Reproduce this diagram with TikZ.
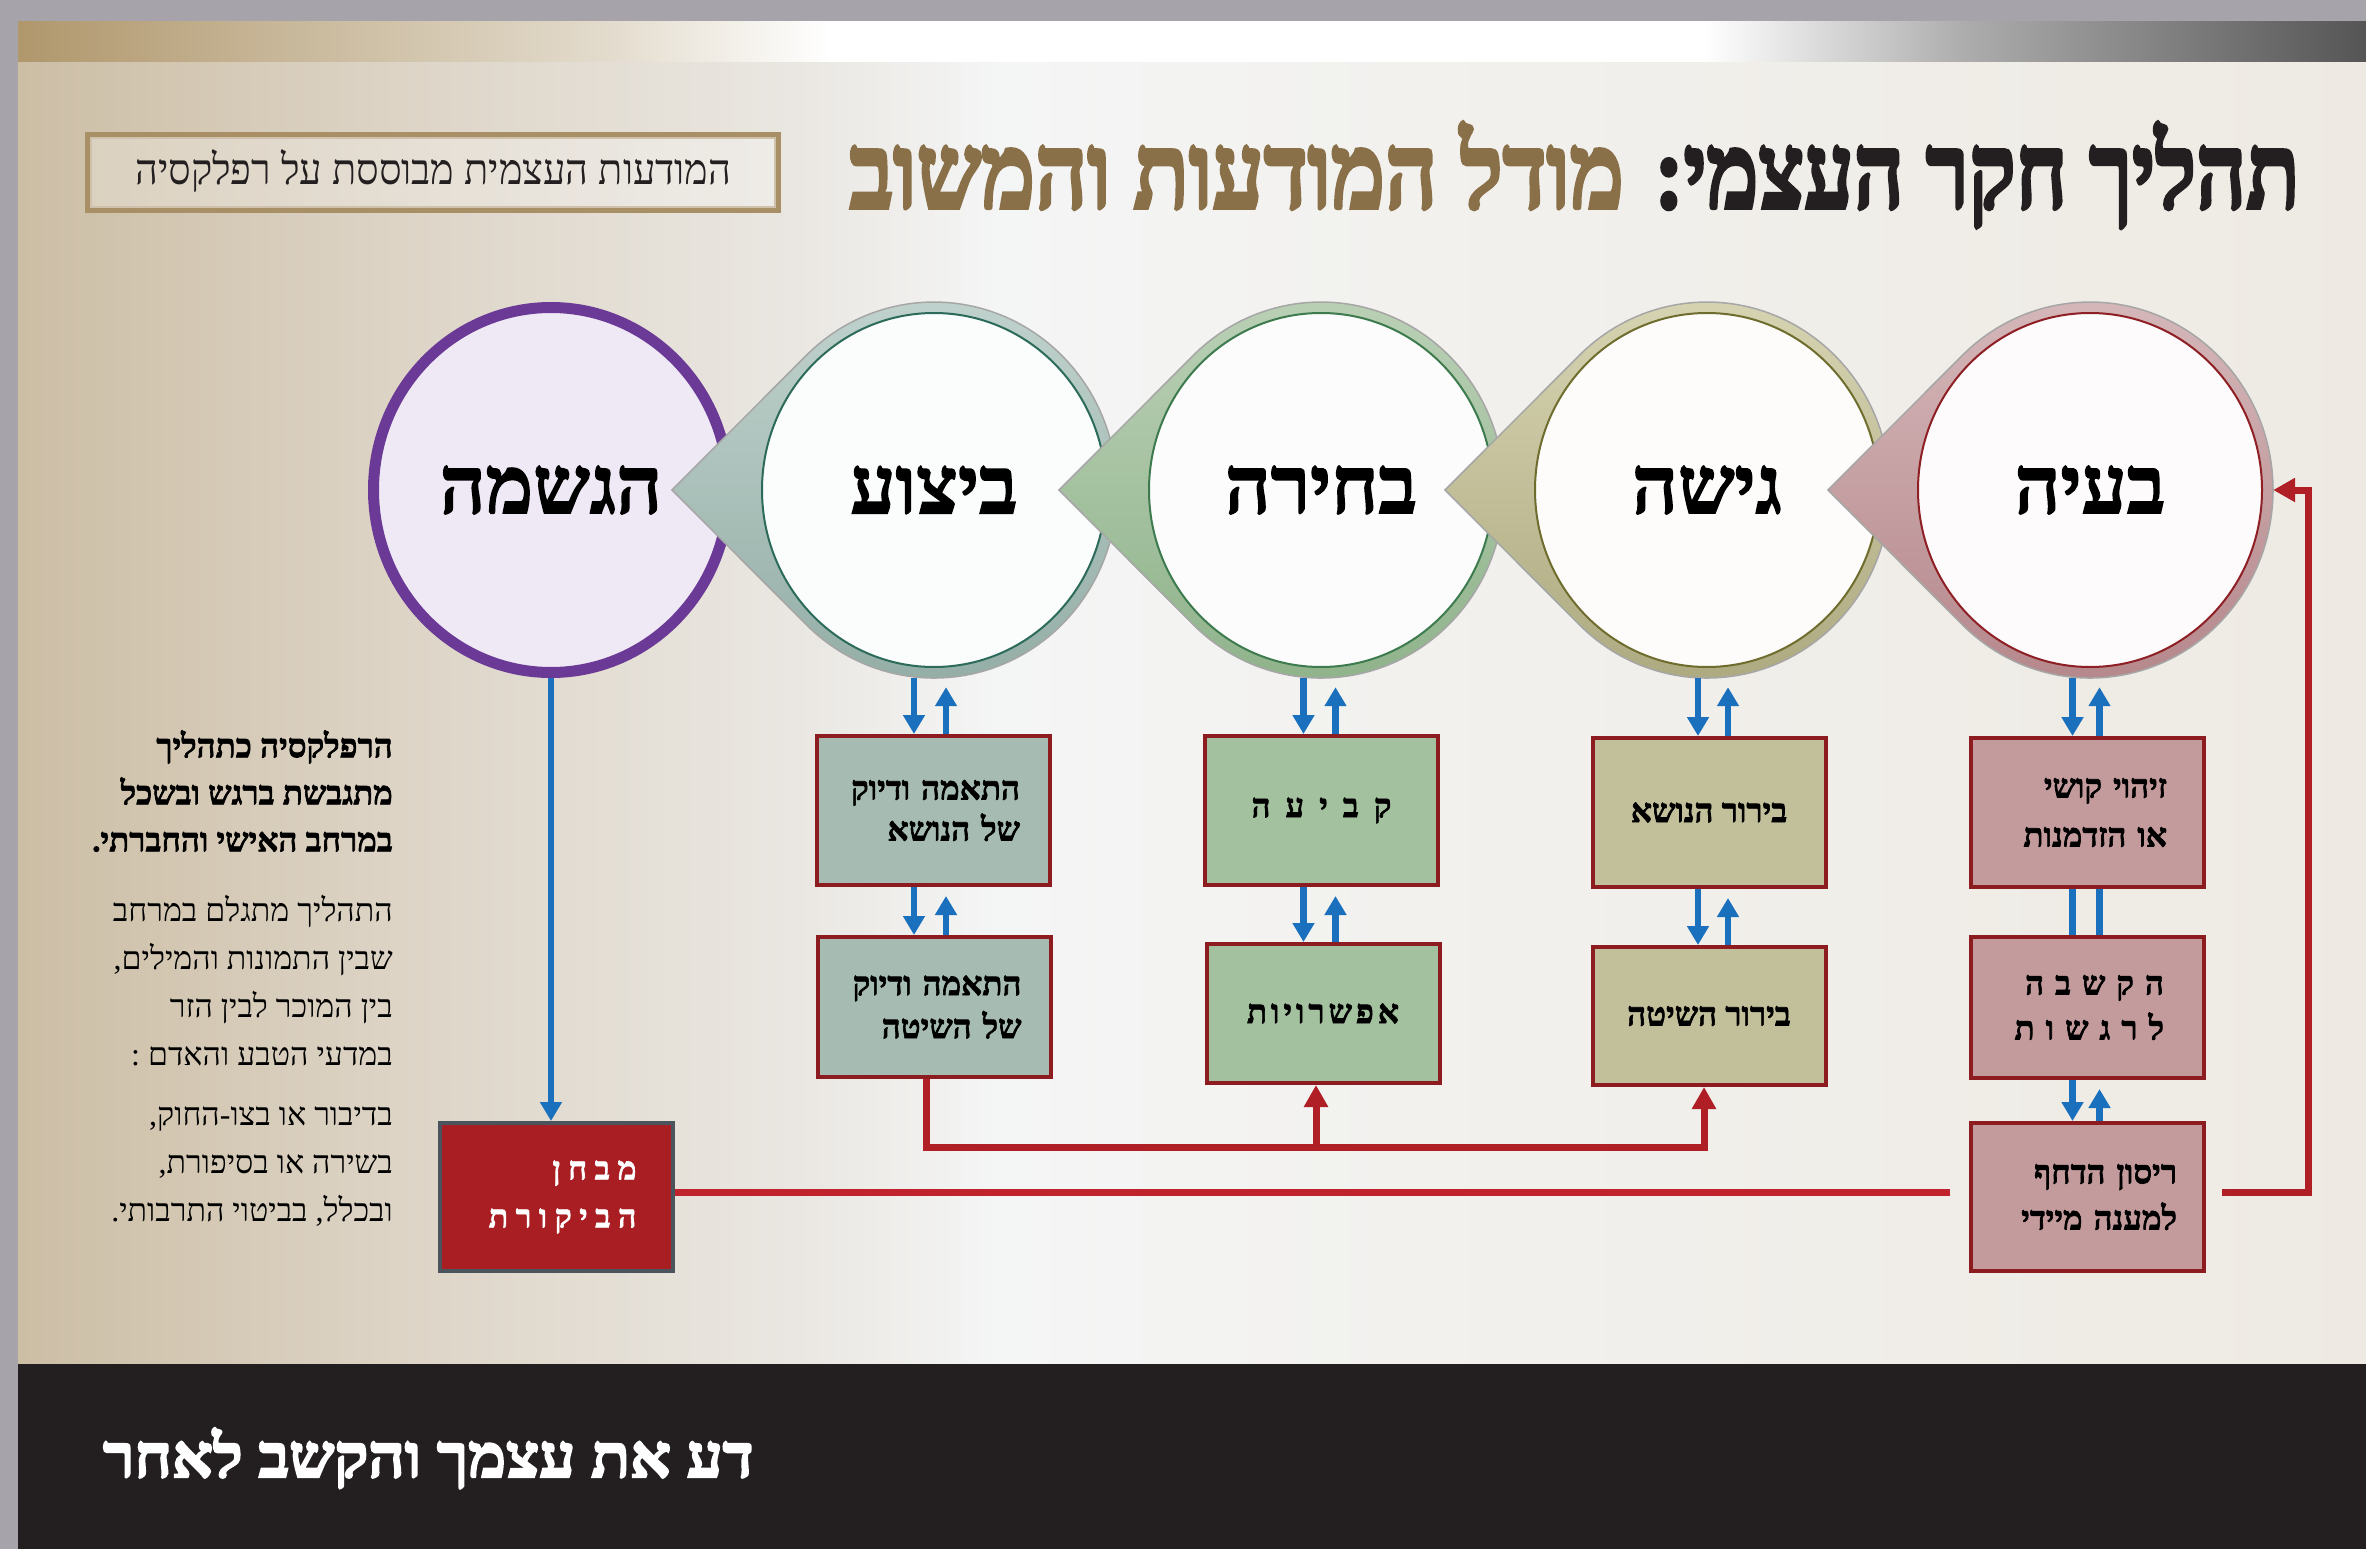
\documentclass[tikz,border=0pt]{standalone}
\usepackage{fontspec}
\usepackage{graphicx}
\usetikzlibrary{arrows.meta,calc,shapes.geometric}
\TeXXeTstate=1
\newfontfamily\heb[Script=Hebrew, BoldFeatures={FakeBold=2}]{Liberation Serif}
\newfontfamily\hebheavy[Script=Hebrew, FakeBold=3.5]{Liberation Serif Bold}
\newcommand{\hbt}[1]{\beginR #1\endR}
\newcommand{\brk}{\kern0pt}
\definecolor{grayframe}{HTML}{A7A3AA}
\definecolor{footbg}{HTML}{231F20}
\definecolor{titleblack}{HTML}{231F20}
\definecolor{titlebrown}{HTML}{8A7048}
\definecolor{framebrown}{HTML}{A88F66}
\definecolor{boxred}{HTML}{8C1C1F}
\definecolor{arrblue}{HTML}{1A70BD}
\definecolor{linered}{HTML}{C0232B}
\definecolor{busred}{HTML}{B01F26}
\definecolor{testred}{HTML}{A91E23}
\definecolor{testedge}{HTML}{4B535C}
\definecolor{fillA}{HTML}{C49B9C}
\definecolor{fillB}{HTML}{C2BF9B}
\definecolor{fillC}{HTML}{A3C09F}
\definecolor{fillD}{HTML}{A6BCB2}
\definecolor{purpring}{HTML}{6B3A96}
\definecolor{purpfill}{HTML}{EFE9F5}
\definecolor{bgA}{HTML}{CCBEA5}
\definecolor{bgB}{HTML}{DDD4C6}
\definecolor{bgC}{HTML}{EAE7E2}
\definecolor{bgD}{HTML}{F4F5F5}
\definecolor{bgE}{HTML}{F2F1EE}
\definecolor{bgF}{HTML}{EEEAE3}
\definecolor{tbA}{HTML}{B0976C}
\definecolor{tbB}{HTML}{C9B99C}
\definecolor{tbC}{HTML}{E2DACB}
\definecolor{tbD}{HTML}{ADADAD}
\definecolor{tbE}{HTML}{555555}
\definecolor{tdAt}{HTML}{D6B9BB}
\definecolor{tdAb}{HTML}{B4868A}
\definecolor{tdBt}{HTML}{D8D5B4}
\definecolor{tdBb}{HTML}{ACA87E}
\definecolor{tdCt}{HTML}{BBD1B6}
\definecolor{tdCb}{HTML}{8EB28A}
\definecolor{tdDt}{HTML}{C2D3CE}
\definecolor{tdDb}{HTML}{92ADA5}
\definecolor{lnA}{HTML}{8E1F25}
\definecolor{lnB}{HTML}{6F6D2E}
\definecolor{lnC}{HTML}{3D7B4F}
\definecolor{lnD}{HTML}{2C6B5A}
\pgfdeclarehorizontalshading{bgshade}{100bp}{color(0bp)=(bgA); color(25bp)=(bgA); color(33.1bp)=(bgB); color(41.6bp)=(bgC); color(45.9bp)=(bgD); color(54.4bp)=(bgE); color(75bp)=(bgF); color(100bp)=(bgF)}
\pgfdeclarehorizontalshading{bandshade}{100bp}{color(0bp)=(tbA); color(25bp)=(tbA); color(31bp)=(tbB); color(37.4bp)=(tbC); color(42.3bp)=(white); color(60.9bp)=(white); color(66.4bp)=(tbD); color(75bp)=(tbE); color(100bp)=(tbE)}
\newcommand{\tearshape}[5]{%
  \shade[top color=#2, bottom color=#3, draw=black!35, line width=1.5pt]
    ($(#1)+(-262,0)$) -- ($(#1)+(-127.8,-134.5)$)
    arc[start angle=134.3, end angle=-134.3, x radius=183pt, y radius=188pt] -- cycle;
  \draw[draw=#4, line width=2pt, fill=#5] (#1) ellipse[x radius=172pt, y radius=177pt];
}
\tikzset{
  stagetxt/.style={ellipse, minimum width=366pt, minimum height=376pt, inner sep=0pt,
    font=\heb\bfseries\fontsize{80}{86}\selectfont, text=black},
  box/.style={draw=boxred, line width=4pt, inner sep=0pt, minimum width=233pt,
    font=\heb\bfseries\fontsize{33}{45}\selectfont, text=black},
  rbox/.style={box, align=right},
  cbox/.style={box, align=center},
  barrow/.style={draw=arrblue, line width=6.5pt, -{Triangle[width=21pt,length=19pt]}},
  bline/.style={draw=arrblue, line width=6.5pt},
  rline/.style={draw=linered, line width=7pt},
  rarrow/.style={draw=busred, line width=7pt, -{Triangle[width=23pt,length=22pt]}},
  sidetxt/.style={align=right, anchor=east, inner sep=0pt, text=black},
}
\begin{document}
\begin{tikzpicture}[x=1pt,y=-1pt]
\useasboundingbox (0,0) rectangle (2366,1549);
% background
\fill[grayframe] (0,0) rectangle (2366,1549);
\shade[shading=bandshade] (18,22) rectangle (2366,63);
\shade[shading=bgshade] (18,63) rectangle (2366,1364);
\fill[footbg] (18,1364) rectangle (2366,1549);
% title
\node[anchor=base east, inner sep=0pt, text=titleblack] (t1) at (2300,208)
  {\resizebox{645pt}{86pt}{\hebheavy\hbt{תהליך חקר העצמי\brk:}}};
\node[anchor=base east, inner sep=0pt, text=titlebrown] (t2) at (1624,208)
  {\resizebox{774pt}{86pt}{\hebheavy\hbt{מודל המודעות והמשוב}}};
% top-left frame
\node[draw=framebrown, line width=7pt, fill=white, fill opacity=0.25,
  minimum width=689pt, minimum height=74pt, inner sep=0pt] (frame) at (433,172.5) {};
\draw[framebrown!55, line width=1.5pt] ($(frame.south west)+(6,-6)$) rectangle ($(frame.north east)+(-6,6)$);
\node[anchor=base west, inner sep=0pt, text=titleblack] (ftxt) at (135,185)
  {\resizebox{596pt}{35pt}{\heb\hbt{המודעות העצמית מבוססת על רפלקסיה}}};
% stage circles (left to right)
\coordinate (k5) at (551,490);
\coordinate (k4) at (934,490);
\coordinate (k3) at (1321,490);
\coordinate (k2) at (1707,490);
\coordinate (k1) at (2090,490);
\draw[purpring, line width=11pt, fill=purpfill] (k5) ellipse[x radius=177.5pt, y radius=182.5pt];
\node[stagetxt] (c5) at (k5) {\hbt{הגשמה}};
\tearshape{k4}{tdDt}{tdDb}{lnD}{white!96!fillD}
\node[stagetxt] (c4) at (k4) {\hbt{ביצוע}};
\tearshape{k3}{tdCt}{tdCb}{lnC}{white!96!fillC}
\node[stagetxt] (c3) at (k3) {\hbt{בחירה}};
\tearshape{k2}{tdBt}{tdBb}{lnB}{white!96!fillB}
\node[stagetxt] (c2) at (k2) {\hbt{גישה}};
\tearshape{k1}{tdAt}{tdAb}{lnA}{white!96!fillA}
\node[stagetxt] (c1) at (k1) {\hbt{בעיה}};
% boxes
\node[rbox, fill=fillD, minimum height=149pt, text width=174pt, font=\heb\bfseries\fontsize{33}{41}\selectfont] (b41) at (933,810.5)
  {\hbt{התאמה ודיוק}\\\hbt{של הנושא}};
\node[rbox, fill=fillD, minimum height=140pt, text width=174pt, font=\heb\bfseries\fontsize{33}{43}\selectfont] (b42) at (934.5,1007)
  {\hbt{התאמה ודיוק}\\\hbt{של השיטה}};
\node[cbox, fill=fillC, minimum height=149pt] (b31) at (1321.5,810.5) {\spaceskip=15pt\relax\hbt{ק ב י ע ה}};
\node[cbox, fill=fillC, minimum height=139pt] (b32) at (1323,1013.5)
  {\addfontfeature{LetterSpace=12}\hbt{אפשרויות}};
\node[cbox, fill=fillB, minimum height=149pt] (b21) at (1709,812.5) {\hbt{בירור הנושא}};
\node[cbox, fill=fillB, minimum height=138pt] (b22) at (1709,1016) {\hbt{בירור השיטה}};
\node[rbox, fill=fillA, minimum height=149pt, text width=159pt, font=\heb\bfseries\fontsize{33}{49}\selectfont] (b11) at (2087.5,812.5)
  {\hbt{זיהוי קושי}\\\hbt{או הזדמנות}};
\node[rbox, fill=fillA, minimum height=141pt, text width=153pt] (b12) at (2087.5,1007.5)
  {\hbt{ה ק ש ב ה}\\\hbt{ל ר ג ש ו ת}};
\node[rbox, fill=fillA, minimum height=148pt, text width=179pt, font=\heb\bfseries\fontsize{33}{46}\selectfont] (b13) at (2087.5,1197)
  {\hbt{ריסון הדחף}\\\hbt{למענה מיידי}};
\node[rbox, draw=testedge, fill=testred, text=white, minimum height=148pt, text width=160pt,
  font=\heb\bfseries\fontsize{32}{48}\selectfont] (bm) at (556.5,1197)
  {\spaceskip=7.5pt\relax\hbt{מ ב ח ן}\\\hbt{ה ב י ק ו ר ת}};
% blue connectors
\coordinate (d4) at ($(b41.north)+(-19,0)$);
\coordinate (u4) at ($(b41.north)+(13,0)$);
\coordinate (d3) at ($(b31.north)+(-18,0)$);
\coordinate (u3) at ($(b31.north)+(14,0)$);
\coordinate (d2) at ($(b21.north)+(-11,0)$);
\coordinate (u2) at ($(b21.north)+(19,0)$);
\coordinate (d1) at ($(b11.north)+(-15,0)$);
\coordinate (u1) at ($(b11.north)+(12,0)$);
\draw[barrow] (d4 |- c4.south) -- (d4);
\draw[barrow] (u4) -- ($(u4 |- c4.south)+(0,9)$);
\draw[barrow] (d4 |- b41.south) -- (d4 |- b42.north);
\draw[barrow] (u4 |- b42.north) -- ($(u4 |- b41.south)+(0,9)$);
\draw[barrow] (d3 |- c3.south) -- (d3);
\draw[barrow] (u3) -- ($(u3 |- c3.south)+(0,9)$);
\draw[barrow] (d3 |- b31.south) -- (d3 |- b32.north);
\draw[barrow] (u3 |- b32.north) -- ($(u3 |- b31.south)+(0,9)$);
\draw[barrow] (d2 |- c2.south) -- (d2);
\draw[barrow] (u2) -- ($(u2 |- c2.south)+(0,9)$);
\draw[barrow] (d2 |- b21.south) -- (d2 |- b22.north);
\draw[barrow] (u2 |- b22.north) -- ($(u2 |- b21.south)+(0,9)$);
\draw[barrow] (d1 |- c1.south) -- (d1);
\draw[barrow] (u1) -- ($(u1 |- c1.south)+(0,9)$);
\draw[bline] (d1 |- b11.south) -- (d1 |- b12.north);
\draw[bline] (u1 |- b11.south) -- (u1 |- b12.north);
\draw[barrow] (d1 |- b12.south) -- (d1 |- b13.north);
\draw[barrow] (u1 |- b13.north) -- ($(u1 |- b12.south)+(0,9)$);
\draw[barrow] (c5.south) -- (c5.south |- bm.north);
% red connectors
\coordinate (bus) at (0,1147);
\draw[rarrow] ($(b42.south)+(-8,0)$) |- ($(bus -| b22.south)+(-5,0)$) -- ($(b22.south)+(-5,0)$);
\draw[rarrow] ($(bus -| b32.south)+(-7,0)$) -- ($(b32.south)+(-7,0)$);
\draw[rline] ($(bm.east)+(0,-5)$) -- ($(b13.west)+(-19,-5)$);
\draw[rarrow] ($(b13.east)+(16,-5)$) -- ($(b13.east)+(102,-5)$) |- (c1.east);
% side text
\node[sidetxt, font=\heb\bfseries\fontsize{33}{47}\selectfont] (p1) at (393,791)
  {\hbt{הרפלקסיה כתהליך}\\\hbt{מתגבשת ברגש ובשכל}\\\hbt{במרחב האישי והחברתי\brk.}};
\node[sidetxt, font=\heb\fontsize{32}{48}\selectfont] (p2) at (393,981)
  {\hbt{התהליך מתגלם במרחב}\\\hbt{שבין התמונות והמילים\brk,}\\\hbt{בין המוכר לבין הזר}\\\hbt{במדעי הטבע והאדם :}};
\node[sidetxt, font=\heb\fontsize{32}{48}\selectfont] (p3) at (393,1166)
  {\hbt{בדיבור או בצו\brk-\brk החוק\brk,}\\\hbt{בשירה או בסיפורת\brk,}\\\hbt{ובכלל\brk, בביטוי התרבותי\brk.}};
% footer
\node[anchor=base west, inner sep=0pt, text=white] (foot) at (103,1477)
  {\resizebox{650pt}{49pt}{\hebheavy\hbt{דע את עצמך והקשב לאחר}}};
\end{tikzpicture}
\end{document}
